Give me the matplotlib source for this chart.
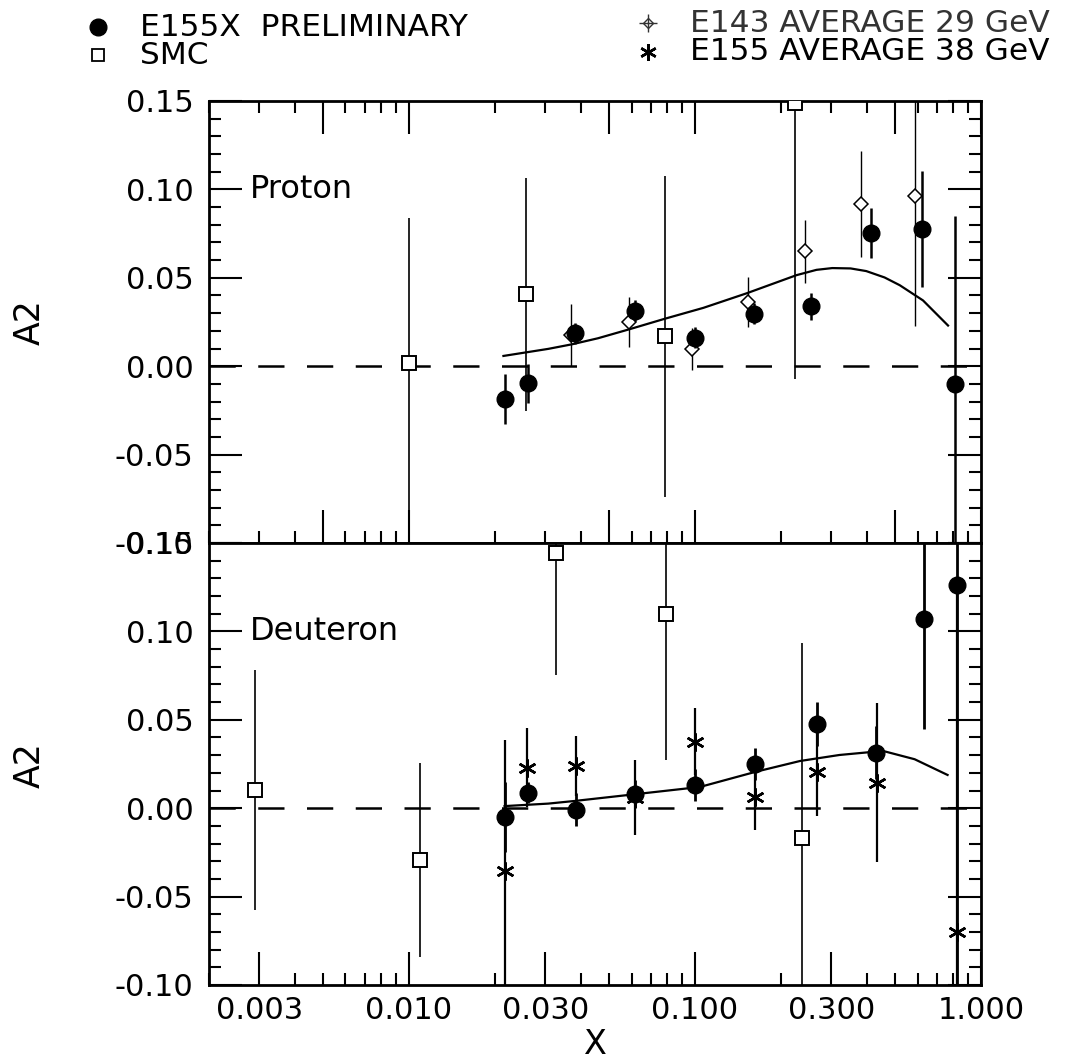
import matplotlib
matplotlib.use('Agg')
import matplotlib.pyplot as plt
from matplotlib.ticker import FixedLocator, FixedFormatter, LogLocator, MultipleLocator, NullFormatter
from matplotlib.transforms import blended_transform_factory

plt.rcParams['font.family'] = ['DejaVu Sans']

# ---------------- Proton panel data ----------------
p_e155x_x = [0.0216, 0.026, 0.038, 0.0615, 0.100, 0.161, 0.255, 0.414, 0.623, 0.813]
p_e155x_y = [-0.0185, -0.0096, 0.0186, 0.0315, 0.0161, 0.0297, 0.0338, 0.0752, 0.0776, -0.0099]
p_e155x_e = [0.014, 0.011, 0.006, 0.006, 0.006, 0.006, 0.0077, 0.014, 0.033, 0.095]

p_e143_x = [0.037, 0.0589, 0.0974, 0.153, 0.242, 0.380, 0.586]
p_e143_y = [0.0175, 0.0249, 0.0098, 0.0362, 0.0649, 0.0915, 0.096]
p_e143_e = [0.0175, 0.014, 0.012, 0.014, 0.018, 0.030, 0.073]

p_smc_x = [0.010, 0.0257, 0.0783, 0.2246]
p_smc_y = [0.002, 0.0406, 0.0168, 0.149]
p_smc_elo = [0.110, 0.066, 0.091, 0.156]
p_smc_ehi = [0.082, 0.066, 0.091, 0.156]

p_curve_x = [0.0214, 0.0307, 0.0372, 0.0458, 0.0593, 0.0783, 0.107, 0.152, 0.2265,
             0.266, 0.302, 0.35, 0.397, 0.46, 0.52, 0.627, 0.767]
p_curve_y = [0.0058, 0.0098, 0.0124, 0.0158, 0.0210, 0.0268, 0.0330, 0.0413, 0.0515,
             0.0545, 0.0555, 0.0553, 0.0538, 0.0502, 0.0458, 0.0372, 0.0230]

# ---------------- Deuteron panel data ----------------
d_e155x_x = [0.0216, 0.0261, 0.0385, 0.0619, 0.100, 0.1618, 0.267, 0.429, 0.630, 0.822]
d_e155x_y = [-0.0049, 0.0088, -0.0008, 0.0080, 0.0130, 0.0252, 0.0478, 0.0314, 0.107, 0.126]
d_e155x_e = [0.020, 0.006, 0.0095, 0.008, 0.009, 0.009, 0.0125, 0.015, 0.062, 0.25]

d_e155_x = [0.0216, 0.0258, 0.0385, 0.0615, 0.100, 0.1618, 0.267, 0.434, 0.822]
d_e155_y = [-0.0354, 0.0229, 0.0239, 0.0060, 0.0376, 0.0066, 0.0207, 0.0145, -0.0703]
d_e155_e = [0.074, 0.0225, 0.017, 0.021, 0.019, 0.019, 0.025, 0.045, 0.20]

d_smc_x = [0.0029, 0.0109, 0.0328, 0.0789, 0.2366]
d_smc_y = [0.0102, -0.0294, 0.1444, 0.110, -0.0166]
d_smc_e = [0.068, 0.055, 0.069, 0.083, 0.11]

d_curve_x = [0.0216, 0.0222, 0.0307, 0.038, 0.0617, 0.104, 0.164, 0.233, 0.32,
             0.454, 0.586, 0.764]
d_curve_y = [0.0012, 0.0013, 0.0026, 0.0041, 0.0079, 0.0120, 0.0207, 0.0267, 0.0301,
             0.0324, 0.0277, 0.0188]

# ---------------- axis ticks / labels ----------------
x_range = [0.002, 1.0]
y_range = [-0.10, 0.15]
y_ticks = [-0.10, -0.05, 0.00, 0.05, 0.10, 0.15]
y_labels = ['-0.10', '-0.05', '0.00', '0.05', '0.10', '0.15']
x_ticks_bottom = [0.003, 0.010, 0.030, 0.100, 0.300, 1.000]
x_labels_bottom = ['0.003', '0.010', '0.030', '0.100', '0.300', '1.000']
x_ticks_top = [0.005, 0.010, 0.050, 0.100, 0.500, 1.000]

W, H = 1078, 1064
fig = plt.figure(figsize=(W / 100, H / 100), dpi=100)
L, R, T, M, B = 209, 981, 101, 543, 985
ax1 = fig.add_axes([L / W, 1 - M / H, (R - L) / W, (M - T) / H])
ax2 = fig.add_axes([L / W, 1 - B / H, (R - L) / W, (B - M) / H])

MAJ, MIN = 23.5, 8.5
TW = 1.5
FS = 22

for ax in (ax1, ax2):
    ax.set_xscale('log')
    ax.set_xlim(*x_range)
    ax.set_ylim(*y_range)
    for s in ax.spines.values():
        s.set_linewidth(2.0)
    ax.yaxis.set_major_locator(FixedLocator(y_ticks))
    ax.yaxis.set_major_formatter(FixedFormatter(y_labels))
    ax.yaxis.set_minor_locator(MultipleLocator(0.01))
    ax.tick_params(axis='y', which='both', direction='in', left=True, right=True,
                   width=TW, labelsize=FS, pad=11)
    ax.tick_params(axis='y', which='major', length=MAJ)
    ax.tick_params(axis='y', which='minor', length=MIN)
    ax.xaxis.set_minor_locator(LogLocator(base=10, subs=[2, 3, 4, 5, 6, 7, 8, 9], numticks=20))
    ax.xaxis.set_minor_formatter(NullFormatter())
    ax.axhline(0.0, color='black', lw=1.8, ls=(0, (10.5, 9.0)), zorder=1)

# top panel x ticks
ax1.xaxis.set_major_locator(FixedLocator(x_ticks_top))
ax1.xaxis.set_major_formatter(NullFormatter())
ax1.tick_params(axis='x', which='both', direction='in', top=True, bottom=True,
                labelbottom=False, width=TW)
ax1.tick_params(axis='x', which='major', length=MAJ)
ax1.tick_params(axis='x', which='minor', length=MIN)

# bottom panel x ticks
ax2.xaxis.set_major_locator(FixedLocator(x_ticks_bottom))
ax2.xaxis.set_major_formatter(FixedFormatter(x_labels_bottom))
ax2.tick_params(axis='x', which='both', direction='in', top=False, bottom=True,
                width=TW, labelsize=FS, pad=8)
ax2.tick_params(axis='x', which='major', length=MAJ)
ax2.tick_params(axis='x', which='minor', length=MIN)

ast = (6, 2, 0)

# ---- proton ----
ax1.plot(p_curve_x, p_curve_y, color='black', lw=1.6, zorder=2)
ax1.errorbar(p_smc_x, p_smc_y, yerr=[p_smc_elo, p_smc_ehi], fmt='s', ms=10.5,
             mfc='white', mec='black', mew=1.4, ecolor='black', elinewidth=1.2,
             capsize=0, zorder=3)
ax1.errorbar(p_e143_x, p_e143_y, yerr=p_e143_e, fmt='D', ms=7,
             mfc='white', mec='black', mew=1.1, ecolor='black', elinewidth=1.0,
             capsize=0, zorder=3)
ax1.errorbar(p_e155x_x, p_e155x_y, yerr=p_e155x_e, fmt='o', ms=12,
             color='black', ecolor='black', elinewidth=1.8, capsize=0, zorder=4)

# ---- deuteron ----
ax2.plot(d_curve_x, d_curve_y, color='black', lw=1.6, zorder=2)
ax2.errorbar(d_smc_x, d_smc_y, yerr=d_smc_e, fmt='s', ms=10.5,
             mfc='white', mec='black', mew=1.4, ecolor='black', elinewidth=1.2,
             capsize=0, zorder=3)
ax2.errorbar(d_e155_x, d_e155_y, yerr=d_e155_e, fmt='none', ecolor='black',
             elinewidth=1.6, capsize=0, zorder=3)
ax2.plot(d_e155_x, d_e155_y, ls='none', marker=ast, ms=13, mec='black', mew=1.8, zorder=3)
ax2.errorbar(d_e155x_x, d_e155x_y, yerr=d_e155x_e, fmt='o', ms=12,
             color='black', ecolor='black', elinewidth=2.0, capsize=0, zorder=4)

# panel labels
for ax, name in ((ax1, 'Proton'), (ax2, 'Deuteron')):
    tr = blended_transform_factory(ax.transAxes, ax.transData)
    ax.text(0.053, 0.10, name, transform=tr, fontsize=23, va='center', ha='left')

# axis titles
fig.text(30 / W, 1 - 322 / H, 'A2', rotation=90, ha='center', va='center', fontsize=25)
fig.text(30 / W, 1 - 765 / H, 'A2', rotation=90, ha='center', va='center', fontsize=25)
fig.text(595 / W, 1 - 1045 / H, 'X', ha='center', va='center', fontsize=24)

# legend
lg = fig.add_axes([0, 0, 1, 1], zorder=-1)
lg.set_xlim(0, W)
lg.set_ylim(H, 0)
lg.axis('off')
LFS = 22.5
lg.plot([98], [27], 'o', ms=12, color='black')
lg.text(140, 27, 'E155X  PRELIMINARY', fontsize=LFS, va='center', ha='left')
lg.plot([98], [55], 's', ms=9, mfc='white', mec='black', mew=1.3)
lg.text(140, 55, 'SMC', fontsize=LFS, va='center', ha='left')
lg.plot([648], [23], 'D', ms=5, mfc='white', mec='#333333', mew=1.0)
lg.plot([648], [23], '+', ms=13, mec='#333333', mew=1.0)
lg.text(690, 23, 'E143 AVERAGE 29 GeV', fontsize=LFS, va='center', ha='left', color='#333333')
lg.plot([648], [52], ls='none', marker=ast, ms=12, mec='black', mew=1.8)
lg.text(690, 52, 'E155 AVERAGE 38 GeV', fontsize=LFS, va='center', ha='left')

fig.savefig('out.png', dpi=100)
